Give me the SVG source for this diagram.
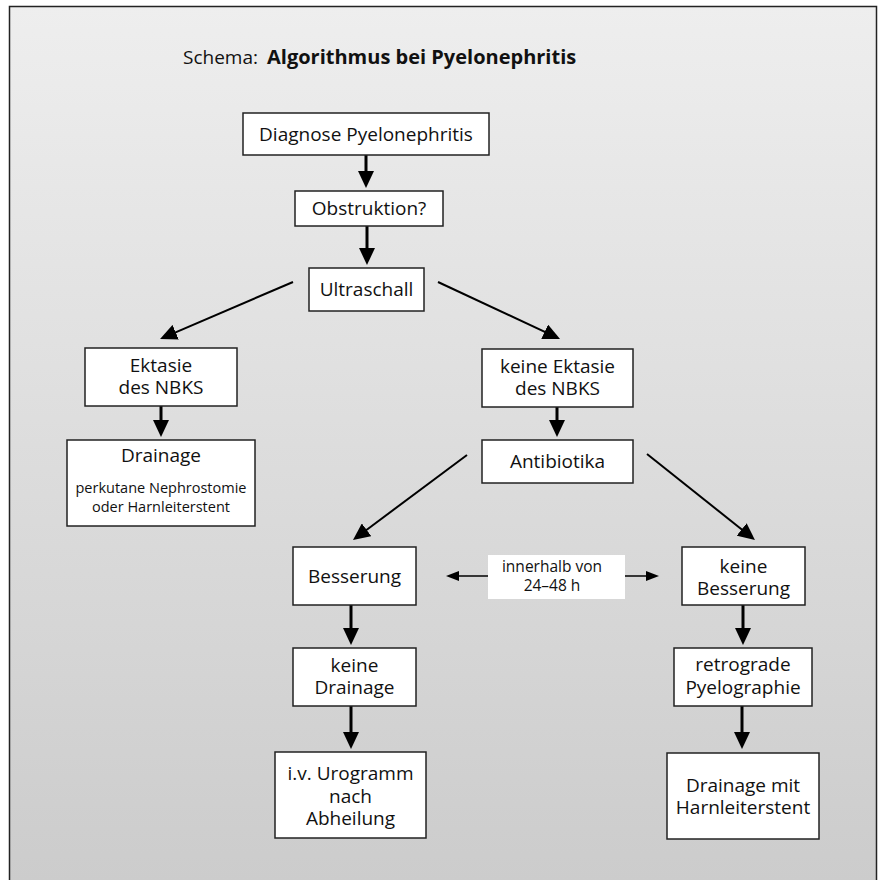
<svg xmlns="http://www.w3.org/2000/svg" width="883" height="880" viewBox="0 0 883 880">
<style>
.box{fill:#fff;stroke:#222;stroke-width:1.5}
.t{font-family:"Open Sans","Noto Sans",sans-serif;font-size:19px;fill:#111;text-anchor:middle}
.s{font-size:14.5px}
.l{font-size:15.5px}
.v{stroke:#000;stroke-width:3;fill:none;marker-end:url(#ah)}
.d{stroke:#000;stroke-width:2;fill:none;marker-end:url(#ah)}
</style>
<defs>
<linearGradient id="bg" x1="0" y1="0" x2="0" y2="1">
<stop offset="0" stop-color="#eeeeee"/>
<stop offset="1" stop-color="#cbcbcb"/>
</linearGradient>
<marker id="ah" markerUnits="userSpaceOnUse" markerWidth="17" markerHeight="16" refX="9" refY="8" orient="auto">
<path d="M0,0 L17,8 L0,16 z" fill="#000"/>
</marker>
<marker id="sah" markerUnits="userSpaceOnUse" markerWidth="13" markerHeight="10" refX="7" refY="5" orient="auto-start-reverse">
<path d="M0,0 L13,5 L0,10 z" fill="#000"/>
</marker>
</defs>
<rect x="0" y="0" width="883" height="880" fill="#fff"/>
<rect x="9.5" y="6.5" width="867" height="900" fill="url(#bg)" stroke="#222" stroke-width="1.5"/>
<text x="183" y="64" style="font-family:'Open Sans','Noto Sans',sans-serif;font-size:19px;fill:#111">Schema:<tspan x="267" font-weight="bold" font-size="20">Algorithmus bei Pyelonephritis</tspan></text>

<g id="connectors">
<line class="v" x1="366" y1="155" x2="366" y2="180"/>
<line class="v" x1="367" y1="226" x2="367" y2="257"/>
<line class="d" x1="293" y1="282" x2="167.4" y2="335.8"/>
<line class="d" x1="438" y1="282" x2="552.8" y2="335.6"/>
<line class="v" x1="161" y1="406" x2="161" y2="429"/>
<line class="v" x1="557" y1="407" x2="557" y2="429"/>
<line class="d" x1="467" y1="455" x2="359.4" y2="535.2"/>
<line class="d" x1="647" y1="454" x2="748.7" y2="535"/>
<line class="v" x1="351" y1="605" x2="351" y2="637"/>
<line class="v" x1="743" y1="605" x2="743" y2="637"/>
<line class="v" x1="351" y1="706" x2="351" y2="741"/>
<line class="v" x1="742" y1="706" x2="742" y2="741"/>
<line x1="452" y1="576" x2="653" y2="576" stroke="#000" stroke-width="1.5" marker-start="url(#sah)" marker-end="url(#sah)"/>
<g id="label-time">
<rect x="488" y="555" width="137" height="44" fill="#fff"/>
<text class="t l" x="552" y="572">innerhalb von</text>
<text class="t l" x="552" y="591">24–48 h</text>
</g>
</g>

<g id="diagnose">
<rect class="box" x="243" y="113" width="246" height="42"/>
<text class="t" x="366" y="141">Diagnose Pyelonephritis</text>
</g>
<g id="obstruktion">
<rect class="box" x="295" y="191" width="148" height="35"/>
<text class="t" x="369" y="215">Obstruktion?</text>
</g>
<g id="ultraschall">
<rect class="box" x="309" y="268" width="115" height="43"/>
<text class="t" x="366.5" y="296">Ultraschall</text>
</g>
<g id="ektasie">
<rect class="box" x="85" y="348" width="152" height="58"/>
<text class="t" x="161" y="372">Ektasie</text>
<text class="t" x="161" y="394">des NBKS</text>
</g>
<g id="drainage-left">
<rect class="box" x="67" y="440" width="188" height="86"/>
<text class="t" x="161" y="462">Drainage</text>
<text class="t s" x="161" y="493">perkutane Nephrostomie</text>
<text class="t s" x="161" y="512">oder Harnleiterstent</text>
</g>
<g id="keine-ektasie">
<rect class="box" x="482" y="349" width="151" height="58"/>
<text class="t" x="557.5" y="373">keine Ektasie</text>
<text class="t" x="557.5" y="395">des NBKS</text>
</g>
<g id="antibiotika">
<rect class="box" x="482" y="440" width="151" height="43"/>
<text class="t" x="557.5" y="468">Antibiotika</text>
</g>
<g id="besserung">
<rect class="box" x="293" y="547" width="123" height="58"/>
<text class="t" x="354.5" y="583">Besserung</text>
</g>
<g id="keine-besserung">
<rect class="box" x="682" y="547" width="123" height="58"/>
<text class="t" x="743.5" y="573">keine</text>
<text class="t" x="743.5" y="595">Besserung</text>
</g>
<g id="keine-drainage">
<rect class="box" x="293" y="648" width="123" height="58"/>
<text class="t" x="354.5" y="672">keine</text>
<text class="t" x="354.5" y="694">Drainage</text>
</g>
<g id="retrograde">
<rect class="box" x="674" y="648" width="138" height="58"/>
<text class="t" x="743" y="671">retrograde</text>
<text class="t" x="743" y="694">Pyelographie</text>
</g>
<g id="urogramm">
<rect class="box" x="275" y="752" width="151" height="86"/>
<text class="t" x="350.5" y="780">i.v. Urogramm</text>
<text class="t" x="350.5" y="803">nach</text>
<text class="t" x="350.5" y="825">Abheilung</text>
</g>
<g id="drainage-stent">
<rect class="box" x="667" y="753" width="152" height="86"/>
<text class="t" x="743" y="792">Drainage mit</text>
<text class="t" x="743" y="814">Harnleiterstent</text>
</g>
</svg>
